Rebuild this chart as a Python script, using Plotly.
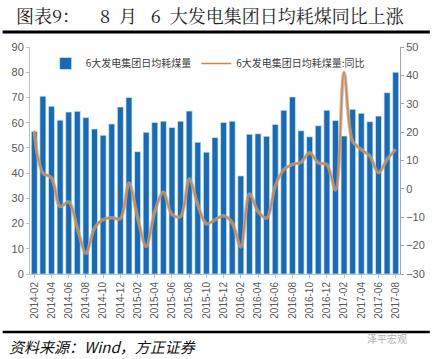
import plotly.graph_objects as go

months = ["2014-02","2014-03","2014-04","2014-05","2014-06","2014-07","2014-08","2014-09","2014-10","2014-11","2014-12",
          "2015-01","2015-02","2015-03","2015-04","2015-05","2015-06","2015-07","2015-08","2015-09","2015-10","2015-11","2015-12",
          "2016-01","2016-02","2016-03","2016-04","2016-05","2016-06","2016-07","2016-08","2016-09","2016-10","2016-11","2016-12",
          "2017-01","2017-02","2017-03","2017-04","2017-05","2017-06","2017-07","2017-08"]
coal = [56.5, 70.5, 66.5, 61.0, 64.2, 64.5, 62.0, 57.5, 55.0, 59.5, 66.2,
        70.0, 48.5, 56.2, 60.1, 60.6, 58.1, 60.6, 64.6, 52.2, 48.3, 54.1, 60.1,
        60.6, 38.9, 55.4, 55.6, 54.6, 59.3, 64.9, 70.2, 56.8, 54.4, 58.8, 64.9,
        60.9, 54.7, 65.3, 63.7, 60.4, 62.6, 71.9, 80.0]
yoy = [20.5, 5.6, 3.9, -6.2, -4.6, -13.8, -22.7, -13.8, -10.8, -10.2, -10.5,
       2.1, -10.0, -20.3, -8.0, -1.2, -9.0, -9.7, 3.5, -5.6, -12.3, -10.9, -9.5,
       -12.0, -20.5, -1.8, -7.9, -10.3, 1.0, 6.8, 8.6, 9.4, 12.7, 9.2, 8.6,
       -0.4, 41.0, 16.8, 13.9, 11.5, 5.7, 10.4, 13.9]
tick_labels = months[::2]
left_ticks = [0, 10, 20, 30, 40, 50, 60, 70, 80, 90]
right_ticks = [-30, -20, -10, 0, 10, 20, 30, 40, 50]

name_bar = "6大发电集团日均耗煤量"
name_line = "6大发电集团日均耗煤量:同比"
title_a = "图表9："
title_b = "8\u2002月\u2002 6\u2002大发电集团日均耗煤同比上涨"
source = "资料来源：Wind，方正证券"
watermark = "泽平宏观"

W, H = 437, 359
L, R, T, B = 28, 406.5, 47, 274
def px(x):
    return (x - L) / (R - L)
def py(y):
    return (B - y) / (B - T)

fig = go.Figure()
fig.add_trace(go.Bar(x=months, y=coal, name=name_bar,
                     marker=dict(color="#1A69B2", line=dict(color="#CFEFFA", width=0.7)), yaxis="y"))
fig.add_trace(go.Scatter(x=months, y=yoy, mode="lines", showlegend=False, hoverinfo="skip",
                         line=dict(color="rgba(170,170,170,0.75)", width=3.5, shape="spline", smoothing=1.0),
                         yaxis="y2"))
fig.add_trace(go.Scatter(x=months, y=yoy, mode="lines", name=name_line,
                         line=dict(color="#D9843A", width=1.5, shape="spline", smoothing=1.0), yaxis="y2"))

tickfont = dict(family="Liberation Sans, Arial", size=11, color="#595959")
fig.update_layout(
    width=W, height=H,
    margin=dict(l=L, r=W - R, t=T, b=H - B),
    paper_bgcolor="white", plot_bgcolor="white",
    bargap=0.3,
    font=dict(family="Noto Sans CJK SC", size=11, color="#595959"),
    xaxis=dict(type="category", tickmode="array", tickvals=tick_labels, ticktext=tick_labels,
               tickangle=-90, tickfont=dict(family="Liberation Sans, Arial", size=10, color="#595959"),
               showline=True, linecolor="#BFBFBF", ticks="outside", ticklen=3, tickcolor="#BFBFBF",
               showgrid=False, range=[-0.5, len(months) - 0.5]),
    yaxis=dict(range=[0, 90], tickvals=left_ticks, showgrid=False, zeroline=False, showline=True,
               linecolor="#BFBFBF", ticks="outside", ticklen=3, tickcolor="#BFBFBF", tickfont=tickfont),
    yaxis2=dict(range=[-30, 50], tickvals=right_ticks, overlaying="y", side="right", showgrid=False,
                zeroline=False, showline=True, linecolor="#A6A6A6", ticks="outside", ticklen=3,
                tickcolor="#A6A6A6", tickfont=tickfont),
    legend=dict(orientation="h", x=px(44), y=py(49), xanchor="left", yanchor="top",
                bgcolor="rgba(0,0,0,0)", font=dict(family="Noto Sans CJK SC", size=10, color="#404040"),
                itemwidth=30, tracegroupgap=0),
    showlegend=True,
)

title_font = dict(family="Noto Serif CJK SC, Noto Sans CJK SC", size=18, color="#222222")
fig.add_annotation(text=title_a, xref="paper", yref="paper", x=px(12), y=py(15), xanchor="left",
                   yanchor="middle", showarrow=False, font=title_font)
fig.add_annotation(text=title_b, xref="paper", yref="paper", x=px(98), y=py(15), xanchor="left",
                   yanchor="middle", showarrow=False, font=title_font)
fig.add_annotation(text=source, xref="paper", yref="paper", x=px(4), y=py(346), xanchor="left",
                   yanchor="middle", showarrow=False,
                   font=dict(family="Noto Sans CJK SC", size=15, color="#111111", style="italic"))
fig.add_annotation(text=watermark, xref="paper", yref="paper", x=px(416), y=py(338), xanchor="right",
                   yanchor="middle", showarrow=False,
                   font=dict(family="Noto Sans CJK SC", size=10, color="#B0B0B0"))
fig.add_shape(type="line", xref="paper", yref="paper", x0=px(0), x1=px(437), y0=py(32), y1=py(32),
              line=dict(color="black", width=3))
fig.add_shape(type="line", xref="paper", yref="paper", x0=px(0), x1=px(437), y0=py(332), y1=py(332),
              line=dict(color="black", width=2.5))

fig.write_html("out.html", config={"displayModeBar": False},
               post_script="document.body.style.margin='0px';")
